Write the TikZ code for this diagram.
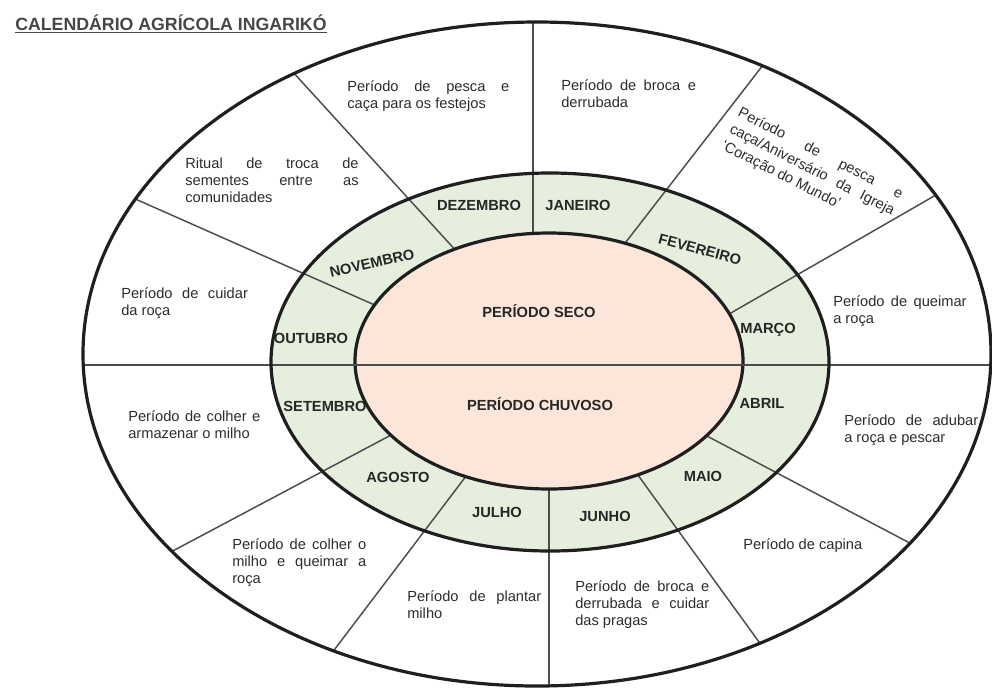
\documentclass[tikz,border=0pt]{standalone}
\usepackage{fontspec}
\setmainfont{Liberation Sans}
\usetikzlibrary{positioning}

\definecolor{seco}{RGB}{252,230,217}
\definecolor{mesfill}{RGB}{230,238,221}
\definecolor{tinta}{RGB}{45,45,45}

\begin{document}
\begin{tikzpicture}[
    x=0.75pt, y=-0.75pt,
    font=\fontsize{11}{12.75}\selectfont,
    anel/.style={draw=black!88, line width=2.4pt},
    raio/.style={draw=black!70, line width=1.1pt},
    mesbox/.style={font=\fontsize{11}{13}\selectfont\bfseries, text=black!85, inner sep=0pt, text height=8pt, text depth=0pt},
    texto/.style={anchor=north west, inner sep=0pt, align=justify, text=tinta,
        execute at begin node={\sloppy\hyphenpenalty 10000\relax}},
  ]
  \useasboundingbox (0,0) rectangle (992,687);
  \fill[white] (0,0) rectangle (992,687);

  \node[anchor=base west, inner sep=0pt, text=black!72, font=\fontsize{13.3}{15}\selectfont\bfseries] (titulo) at (15,30) {\underline{CALENDÁRIO AGRÍCOLA INGARIKÓ}};

  \fill[mesfill] (550,362) ellipse [x radius=279, y radius=189];
  \begin{scope}
    \clip (537,354) ellipse [x radius=454, y radius=332];
    \draw[raio] (533,255) -- (533,5);
    \draw[raio] (469,265) -- (281,59);
    \draw[raio] (395,314) -- (115,190);
    \draw[raio] (612,260) -- (777,47);
    \draw[raio] (710,325) -- (962,180);
    \draw[raio] (408,426) -- (152,562);
    \draw[raio] (476,463) -- (322,666);
    \draw[raio] (549,470) -- (549,705);
    \draw[raio] (627,460) -- (775,664);
    \draw[raio] (688,426) -- (940,559);
  \end{scope}
  \filldraw[anel, fill=seco] (549,361) ellipse [x radius=194, y radius=128];
  \draw[raio] (83,365) -- (991,365);
  \draw[anel] (550,362) ellipse [x radius=279, y radius=189];
  \draw[anel] (537,354) ellipse [x radius=454, y radius=332];

  \node[mesbox] (seco) at (539,312) {PERÍODO SECO};
  \node[mesbox] (chuvoso) at (540,405) {PERÍODO CHUVOSO};

  \node[mesbox] (jan) at (578,205) {JANEIRO};
  \node[mesbox, rotate=-15] (fev) at (700,249) {FEVEREIRO};
  \node[mesbox] (mar) at (768,328) {MARÇO};
  \node[mesbox] (abr) at (762,403) {ABRIL};
  \node[mesbox] (mai) at (703,476) {MAIO};
  \node[mesbox] (jun) at (605,516) {JUNHO};
  \node[mesbox] (jul) at (497,512) {JULHO};
  \node[mesbox] (ago) at (398,477) {AGOSTO};
  \node[mesbox] (set) at (325,406) {SETEMBRO};
  \node[mesbox] (out) at (311,338) {OUTUBRO};
  \node[mesbox, rotate=13] (nov) at (372,263) {NOVEMBRO};
  \node[mesbox] (dez) at (479,205) {DEZEMBRO};

  \node[texto, text width=121.5pt] (tdez) at (347,80) {Período de pesca e\linebreak caça para os festejos};
  \node[texto, text width=101pt] (tjan) at (561,79) {Período de broca e\linebreak derrubada};
  \node[texto, text width=137pt, rotate=-27, font=\fontsize{11}{13.8}\selectfont] (tfev) at (742,106) {Período de pesca e\linebreak caça/Aniversário da Igreja\linebreak `Coração do Mundo'};
  \node[texto, text width=100pt] (tmar) at (833,295) {Período de queimar\linebreak a roça};
  \node[texto, text width=100.5pt] (tabr) at (844,414) {Período de adubar\linebreak a roça e pescar};
  \node[texto, text width=100pt] (tmai) at (743,538) {Período de capina};
  \node[texto, text width=100.5pt] (tjun) at (575,580) {Período de broca e\linebreak derrubada e cuidar\linebreak das pragas};
  \node[texto, text width=100.5pt] (tjul) at (407,590) {Período de plantar\linebreak milho};
  \node[texto, text width=100.5pt] (tago) at (232,538) {Período de colher o\linebreak milho e queimar a\linebreak roça};
  \node[texto, text width=99pt] (tset) at (128,410) {Período de colher e\linebreak armazenar o milho};
  \node[texto, text width=95pt] (tout) at (121,287) {Período de cuidar\linebreak da roça};
  \node[texto, text width=130pt] (tnov) at (185,158) {Ritual de troca de\linebreak sementes entre as\linebreak comunidades};
\end{tikzpicture}
\end{document}
